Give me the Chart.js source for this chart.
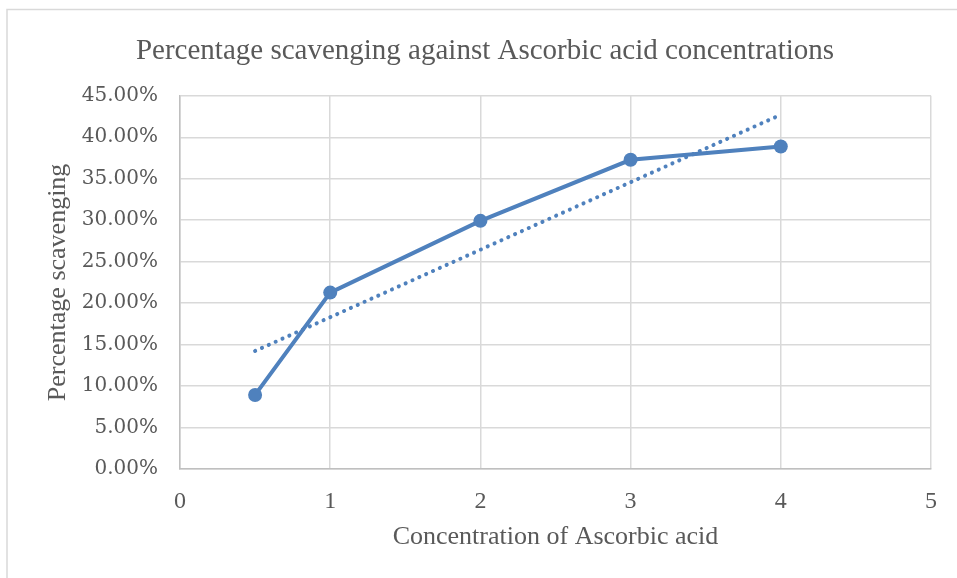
<!DOCTYPE html>
<html>
<head>
<meta charset="utf-8">
<title>Percentage scavenging against Ascorbic acid concentrations</title>
<script src="https://cdn.jsdelivr.net/npm/chart.js@4/dist/chart.umd.min.js"></script>
<style>
  html, body { margin: 0; padding: 0; background: #fff; }
  #wrap { width: 957px; height: 578px; position: relative; }
</style>
</head>
<body>
<div id="wrap"><canvas id="chart"></canvas></div>
<script>
// values
const concentrations = [0.5, 1, 2, 3, 4];
const scavengingPct  = [8.93, 21.27, 29.92, 37.28, 38.88];
// linear trendline ends (dotted)
const trendX = [0.5, 4];
const trendY = [14.23, 42.72];

const X_MIN = 0, X_MAX = 5, X_STEP = 1;
const Y_MIN = 0, Y_MAX = 45, Y_STEP = 5;

const TITLE   = "Percentage scavenging against Ascorbic acid concentrations";
const X_TITLE = "Concentration of Ascorbic acid";
const Y_TITLE = "Percentage scavenging";

const BLUE = "#4F81BD";
const TEXT = "#595959";
const GRID = "#d9d9d9";

const toPoints = (xs, ys) => xs.map((x, i) => ({ x, y: ys[i] }));

// light frame along the top and left edge, like the exported picture
const framePlugin = {
  id: "frame",
  beforeDraw(chart) {
    const ctx = chart.ctx;
    ctx.save();
    ctx.fillStyle = "#fff";
    ctx.fillRect(0, 0, chart.width, chart.height);
    ctx.strokeStyle = GRID;
    ctx.lineWidth = 1.5;
    ctx.beginPath();
    ctx.moveTo(7, chart.height + 2);
    ctx.lineTo(7, 9.5);
    ctx.lineTo(chart.width + 2, 9.5);
    ctx.stroke();
    ctx.restore();
  },
};

new Chart(document.getElementById("chart"), {
  type: "scatter",
  data: {
    datasets: [
      {
        label: "Percentage scavenging",
        data: toPoints(concentrations, scavengingPct),
        showLine: true,
        borderColor: BLUE,
        backgroundColor: BLUE,
        borderWidth: 4,
        pointRadius: 7,
        pointHoverRadius: 7,
        pointBorderWidth: 0,
        order: 1,
      },
      {
        label: "Linear trend",
        data: toPoints(trendX, trendY),
        showLine: true,
        borderColor: BLUE,
        borderWidth: 4,
        borderDash: [0.1, 7.4],
        borderCapStyle: "round",
        pointRadius: 0,
        order: 2,
      },
    ],
  },
  options: {
    responsive: true,
    maintainAspectRatio: false,
    animation: false,
    layout: { padding: { left: 39, right: 26, top: 4, bottom: 0 } },
    plugins: {
      legend: { display: false },
      tooltip: { enabled: false },
      title: {
        display: true,
        text: TITLE,
        color: TEXT,
        font: { family: "'Liberation Serif', 'Times New Roman', serif", size: 29, weight: "normal" },
        padding: { top: 30, bottom: 27 },
      },
    },
    scales: {
      x: {
        type: "linear",
        min: X_MIN,
        max: X_MAX,
        afterFit: (s) => { s.height = 109; },
        ticks: {
          stepSize: X_STEP,
          padding: 18,
          color: TEXT,
          maxRotation: 0,
          font: { family: "'Liberation Serif', 'Times New Roman', serif", size: 24 },
          callback: (v) => String(v),
        },
        grid: { color: GRID, lineWidth: 1.5, drawTicks: false },
        border: { color: "#bfbfbf", width: 1.5 },
        title: {
          display: true,
          text: X_TITLE,
          color: TEXT,
          font: { family: "'Liberation Serif', 'Times New Roman', serif", size: 26 },
          padding: { top: 0, bottom: 25 },
        },
      },
      y: {
        type: "linear",
        min: Y_MIN,
        max: Y_MAX,
        afterFit: (s) => { s.width = 141; },
        ticks: {
          stepSize: Y_STEP,
          padding: 22,
          color: TEXT,
          font: { family: "'DejaVu Serif', serif", size: 20 },
          callback: (v) => v.toFixed(2) + "%",
        },
        grid: { color: GRID, lineWidth: 1.5, drawTicks: false },
        border: { color: "#bfbfbf", width: 1.5 },
        title: {
          display: true,
          text: Y_TITLE,
          color: TEXT,
          font: { family: "'Liberation Serif', 'Times New Roman', serif", size: 26 },
          padding: { top: 4, bottom: 0 },
        },
      },
    },
  },
  plugins: [framePlugin],
});
</script>
</body>
</html>
